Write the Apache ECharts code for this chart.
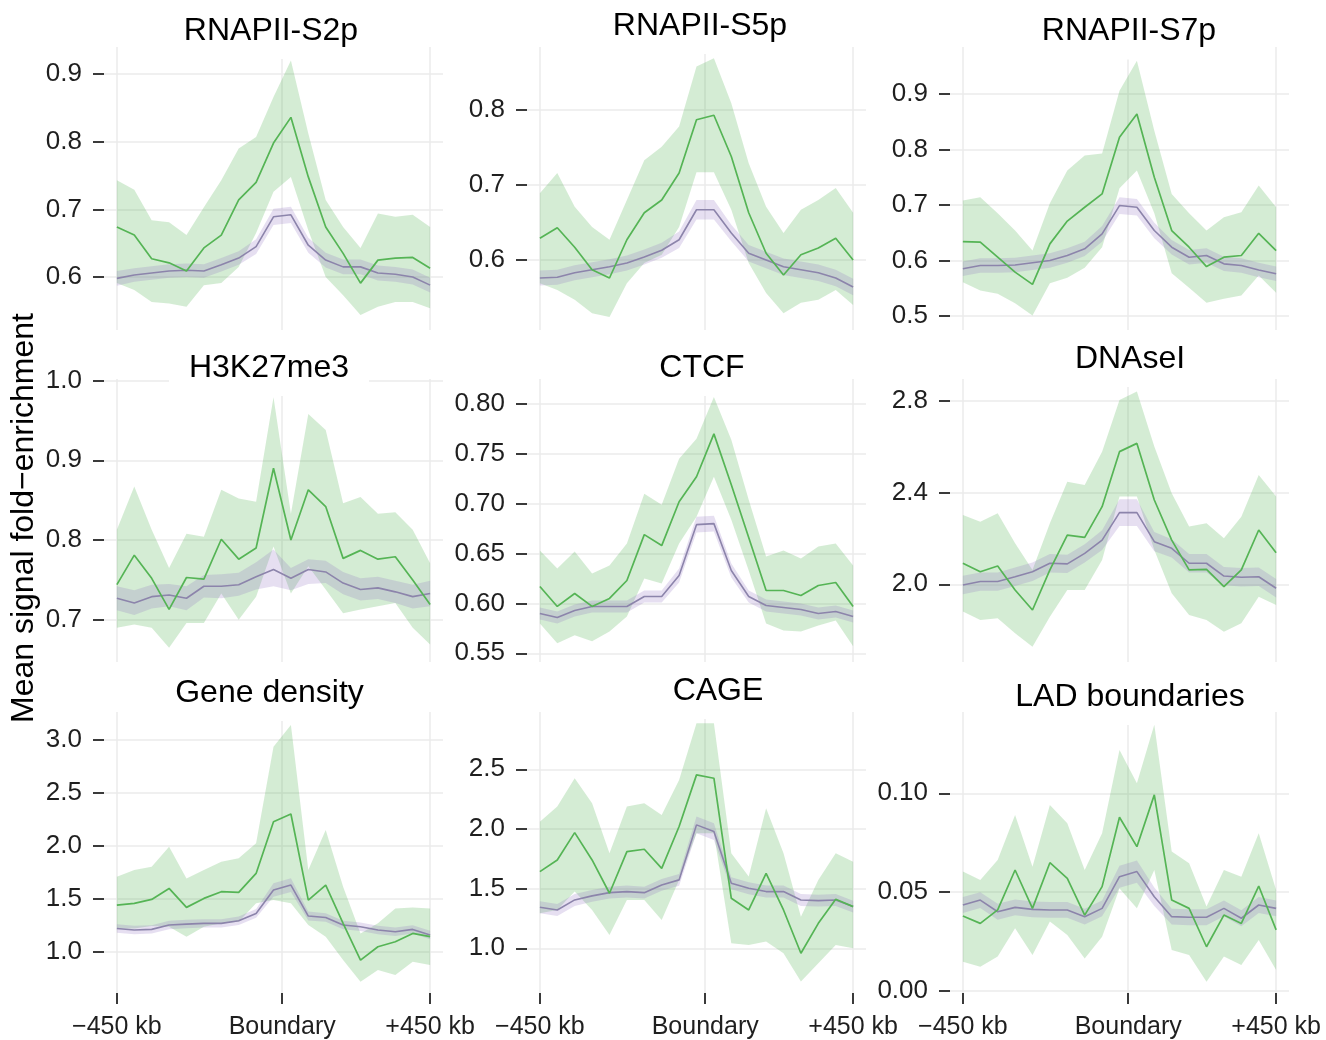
<!DOCTYPE html>
<html>
<head>
<meta charset="utf-8">
<script src="https://cdn.jsdelivr.net/npm/echarts@6/dist/echarts.min.js"></script>
<style>
html,body{margin:0;padding:0;background:#fff;}
#chart{width:1326px;height:1040px;}
</style>
</head>
<body>
<div id="chart"></div>
<script>
// ---------- shared axis data ----------
const positionsKb = [-450,-400,-350,-300,-250,-200,-150,-100,-50,0,50,100,150,200,250,300,350,400,450];
const xTickValues = [-450, 25, 450];
const xTickLabels = ['\u2212450 kb', 'Boundary', '+450 kb'];
const yAxisTitle = 'Mean signal fold\u2212enrichment';

// ---------- RNAPII-S2p ----------
const s2pGreenMean = [0.674,0.662,0.627,0.621,0.609,0.643,0.662,0.714,0.740,0.798,0.836,0.748,0.674,0.635,0.591,0.625,0.628,0.629,0.613];
const s2pGreenLow  = [0.591,0.581,0.563,0.561,0.556,0.588,0.591,0.615,0.665,0.726,0.748,0.669,0.600,0.573,0.544,0.556,0.563,0.563,0.554];
const s2pGreenHigh = [0.743,0.729,0.684,0.681,0.662,0.703,0.743,0.790,0.807,0.866,0.920,0.812,0.714,0.674,0.643,0.694,0.689,0.692,0.674];
const s2pPurpleMean = [0.598,0.603,0.606,0.609,0.610,0.609,0.618,0.628,0.645,0.689,0.692,0.647,0.625,0.615,0.615,0.606,0.604,0.600,0.588];
const s2pPurpleLow  = [0.587,0.593,0.596,0.599,0.600,0.599,0.608,0.618,0.634,0.677,0.680,0.636,0.614,0.604,0.604,0.595,0.593,0.589,0.577];
const s2pPurpleHigh = [0.609,0.613,0.616,0.619,0.620,0.619,0.628,0.638,0.656,0.701,0.704,0.658,0.636,0.626,0.626,0.617,0.615,0.611,0.599];
const s2pTicks = [0.6,0.7,0.8,0.9];

// ---------- RNAPII-S5p ----------
const s5pGreenMean = [0.629,0.643,0.617,0.587,0.576,0.627,0.663,0.680,0.716,0.787,0.793,0.738,0.663,0.609,0.580,0.607,0.616,0.629,0.600];
const s5pGreenLow  = [0.569,0.560,0.547,0.529,0.524,0.569,0.596,0.607,0.644,0.717,0.717,0.667,0.596,0.556,0.529,0.543,0.547,0.560,0.540];
const s5pGreenHigh = [0.689,0.716,0.671,0.644,0.627,0.680,0.733,0.751,0.778,0.858,0.869,0.809,0.729,0.671,0.636,0.667,0.680,0.696,0.663];
const s5pPurpleMean = [0.576,0.577,0.583,0.587,0.591,0.596,0.604,0.613,0.627,0.667,0.667,0.636,0.609,0.600,0.591,0.587,0.583,0.576,0.564];
const s5pPurpleLow  = [0.566,0.567,0.573,0.577,0.581,0.586,0.594,0.603,0.616,0.654,0.654,0.625,0.598,0.589,0.580,0.576,0.572,0.565,0.553];
const s5pPurpleHigh = [0.586,0.587,0.593,0.597,0.601,0.606,0.614,0.623,0.638,0.680,0.680,0.647,0.620,0.611,0.602,0.598,0.594,0.587,0.575];
const s5pTicks = [0.6,0.7,0.8];

// ---------- RNAPII-S7p ----------
const s7pGreenMean = [0.634,0.633,0.606,0.579,0.557,0.630,0.671,0.696,0.720,0.822,0.864,0.750,0.654,0.624,0.589,0.606,0.609,0.649,0.618];
const s7pGreenLow  = [0.561,0.546,0.540,0.523,0.501,0.559,0.569,0.587,0.624,0.730,0.762,0.685,0.577,0.551,0.524,0.531,0.537,0.573,0.542];
const s7pGreenHigh = [0.708,0.714,0.685,0.654,0.618,0.703,0.762,0.789,0.793,0.906,0.960,0.834,0.720,0.685,0.654,0.678,0.687,0.735,0.696];
const s7pPurpleMean = [0.585,0.591,0.591,0.592,0.596,0.600,0.609,0.621,0.648,0.699,0.696,0.654,0.624,0.606,0.609,0.594,0.591,0.583,0.576];
const s7pPurpleLow  = [0.572,0.578,0.578,0.579,0.583,0.587,0.596,0.608,0.634,0.684,0.681,0.640,0.611,0.593,0.596,0.581,0.578,0.570,0.563];
const s7pPurpleHigh = [0.598,0.604,0.604,0.605,0.609,0.613,0.622,0.634,0.662,0.714,0.711,0.668,0.637,0.619,0.622,0.607,0.604,0.596,0.589];
const s7pTicks = [0.5,0.6,0.7,0.8,0.9];

// ---------- H3K27me3 ----------
const h3GreenMean = [0.744,0.781,0.752,0.713,0.753,0.751,0.801,0.776,0.790,0.890,0.800,0.863,0.842,0.777,0.787,0.776,0.779,0.750,0.719];
const h3GreenLow  = [0.690,0.694,0.690,0.665,0.696,0.696,0.733,0.700,0.729,0.792,0.733,0.767,0.738,0.708,0.713,0.717,0.721,0.690,0.669];
const h3GreenHigh = [0.813,0.867,0.813,0.765,0.808,0.804,0.863,0.852,0.848,0.979,0.833,0.958,0.938,0.846,0.854,0.833,0.835,0.813,0.771];
const h3PurpleMean = [0.727,0.721,0.729,0.731,0.727,0.742,0.742,0.744,0.754,0.763,0.752,0.763,0.760,0.746,0.738,0.740,0.735,0.729,0.733];
const h3PurpleLow  = [0.712,0.706,0.714,0.717,0.712,0.728,0.727,0.730,0.738,0.742,0.737,0.745,0.746,0.732,0.724,0.726,0.721,0.714,0.717];
const h3PurpleHigh = [0.742,0.737,0.744,0.745,0.742,0.756,0.757,0.759,0.772,0.788,0.765,0.776,0.774,0.760,0.752,0.754,0.749,0.744,0.749];
const h3Ticks = [0.7,0.8,0.9,1.0];

// ---------- CTCF ----------
const ctcfGreenMean = [0.617,0.597,0.610,0.597,0.605,0.623,0.669,0.658,0.702,0.727,0.770,0.719,0.666,0.613,0.613,0.608,0.618,0.621,0.597];
const ctcfGreenLow  = [0.580,0.560,0.568,0.562,0.572,0.587,0.625,0.620,0.660,0.687,0.727,0.684,0.633,0.580,0.573,0.572,0.578,0.583,0.557];
const ctcfGreenHigh = [0.653,0.635,0.652,0.630,0.638,0.660,0.710,0.699,0.745,0.765,0.807,0.764,0.704,0.647,0.653,0.645,0.657,0.660,0.638];
const ctcfPurpleMean = [0.590,0.586,0.593,0.597,0.597,0.597,0.607,0.607,0.628,0.679,0.680,0.633,0.607,0.598,0.596,0.594,0.590,0.592,0.587];
const ctcfPurpleLow  = [0.584,0.580,0.587,0.591,0.591,0.591,0.601,0.601,0.621,0.671,0.672,0.626,0.601,0.592,0.590,0.588,0.584,0.586,0.581];
const ctcfPurpleHigh = [0.596,0.592,0.599,0.603,0.603,0.603,0.613,0.613,0.635,0.687,0.688,0.640,0.613,0.604,0.602,0.600,0.596,0.598,0.593];
const ctcfTicks = [0.55,0.60,0.65,0.70,0.75,0.80];

// ---------- DNAseI ----------
const dnaseGreenMean = [2.092,2.055,2.080,1.975,1.888,2.063,2.215,2.205,2.339,2.579,2.615,2.368,2.193,2.063,2.065,1.990,2.063,2.237,2.138];
const dnaseGreenLow  = [1.881,1.844,1.852,1.786,1.728,1.859,1.975,1.975,2.106,2.383,2.383,2.150,1.961,1.866,1.844,1.793,1.830,1.946,1.910];
const dnaseGreenHigh = [2.303,2.273,2.310,2.179,2.063,2.266,2.448,2.433,2.579,2.804,2.841,2.601,2.397,2.252,2.266,2.201,2.295,2.477,2.383];
const dnasePurpleMean = [1.997,2.012,2.012,2.033,2.055,2.092,2.089,2.135,2.193,2.313,2.313,2.186,2.157,2.092,2.092,2.036,2.031,2.033,1.983];
const dnasePurpleLow  = [1.957,1.972,1.972,1.993,2.015,2.052,2.049,2.095,2.150,2.255,2.255,2.144,2.117,2.052,2.052,1.996,1.991,1.993,1.943];
const dnasePurpleHigh = [2.037,2.052,2.052,2.073,2.095,2.132,2.129,2.175,2.236,2.371,2.371,2.228,2.197,2.132,2.132,2.076,2.071,2.073,2.023];
const dnaseTicks = [2.0,2.4,2.8];

// ---------- Gene density ----------
const geneGreenMean = [1.441,1.457,1.494,1.598,1.419,1.504,1.567,1.561,1.740,2.228,2.301,1.488,1.630,1.268,0.921,1.047,1.094,1.173,1.142];
const geneGreenLow  = [1.220,1.220,1.243,1.236,1.142,1.236,1.268,1.283,1.457,1.488,1.457,1.252,1.142,0.921,0.717,0.827,0.780,0.906,0.874];
const geneGreenHigh = [1.709,1.772,1.803,1.992,1.693,1.772,1.850,1.882,2.024,2.937,3.142,1.772,2.150,1.614,1.173,1.268,1.409,1.419,1.409];
const genePurpleMean = [1.220,1.205,1.211,1.252,1.261,1.268,1.268,1.293,1.362,1.583,1.630,1.337,1.324,1.252,1.236,1.205,1.189,1.211,1.157];
const genePurpleLow  = [1.180,1.165,1.171,1.212,1.221,1.228,1.228,1.253,1.320,1.520,1.565,1.295,1.284,1.212,1.196,1.165,1.149,1.171,1.117];
const genePurpleHigh = [1.260,1.245,1.251,1.292,1.301,1.308,1.308,1.333,1.404,1.646,1.695,1.379,1.364,1.292,1.276,1.245,1.229,1.251,1.197];
const geneTicks = [1.0,1.5,2.0,2.5,3.0];

// ---------- CAGE ----------
const cageGreenMean = [1.642,1.740,1.969,1.740,1.461,1.810,1.830,1.670,2.020,2.453,2.425,1.419,1.321,1.628,1.321,0.958,1.209,1.411,1.349];
const cageGreenLow  = [1.293,1.321,1.475,1.321,1.112,1.405,1.405,1.237,1.573,1.964,1.964,1.042,1.028,1.056,0.958,0.721,0.874,1.028,1.000];
const cageGreenHigh = [2.061,2.187,2.425,2.215,1.796,2.187,2.215,2.117,2.411,2.885,2.885,1.796,1.601,2.173,1.796,1.265,1.573,1.796,1.726];
const cagePurpleMean = [1.344,1.321,1.405,1.439,1.466,1.475,1.466,1.531,1.573,2.034,1.978,1.545,1.503,1.475,1.475,1.405,1.399,1.405,1.349];
const cagePurpleLow  = [1.294,1.271,1.355,1.389,1.416,1.425,1.416,1.481,1.523,1.964,1.908,1.495,1.453,1.425,1.425,1.355,1.349,1.355,1.299];
const cagePurpleHigh = [1.394,1.371,1.455,1.489,1.516,1.525,1.516,1.581,1.623,2.104,2.048,1.595,1.553,1.525,1.525,1.455,1.449,1.455,1.399];
const cageTicks = [1.0,1.5,2.0,2.5];

// ---------- LAD boundaries ----------
const ladGreenMean = [0.0379,0.0342,0.0410,0.0612,0.0418,0.0649,0.0570,0.0384,0.0528,0.0879,0.0730,0.0992,0.0460,0.0418,0.0224,0.0384,0.0342,0.0531,0.0309];
const ladGreenLow  = [0.0148,0.0123,0.0174,0.0317,0.0182,0.0351,0.0283,0.0165,0.0275,0.0519,0.0418,0.0612,0.0207,0.0182,0.0047,0.0174,0.0132,0.0258,0.0106];
const ladGreenHigh = [0.0604,0.0562,0.0663,0.0890,0.0629,0.0941,0.0848,0.0612,0.0798,0.1219,0.1051,0.1346,0.0705,0.0646,0.0427,0.0612,0.0578,0.0798,0.0511];
const ladPurpleMean = [0.0435,0.0460,0.0401,0.0423,0.0413,0.0410,0.0410,0.0376,0.0418,0.0578,0.0604,0.0477,0.0376,0.0373,0.0373,0.0418,0.0368,0.0435,0.0418];
const ladPurpleLow  = [0.0395,0.0420,0.0361,0.0383,0.0373,0.0370,0.0370,0.0336,0.0378,0.0522,0.0548,0.0430,0.0336,0.0333,0.0333,0.0378,0.0328,0.0395,0.0378];
const ladPurpleHigh = [0.0475,0.0500,0.0441,0.0463,0.0453,0.0450,0.0450,0.0416,0.0458,0.0634,0.0660,0.0524,0.0416,0.0413,0.0413,0.0458,0.0408,0.0475,0.0458];
const ladTicks = [0.00,0.05,0.10];

// ---------- panel table (built from the arrays above) ----------
const panels = [
  {title:'RNAPII-S2p', gm:s2pGreenMean, gl:s2pGreenLow, gh:s2pGreenHigh, pm:s2pPurpleMean, pl:s2pPurpleLow, ph:s2pPurpleHigh, ticks:s2pTicks, dec:1},
  {title:'RNAPII-S5p', gm:s5pGreenMean, gl:s5pGreenLow, gh:s5pGreenHigh, pm:s5pPurpleMean, pl:s5pPurpleLow, ph:s5pPurpleHigh, ticks:s5pTicks, dec:1},
  {title:'RNAPII-S7p', gm:s7pGreenMean, gl:s7pGreenLow, gh:s7pGreenHigh, pm:s7pPurpleMean, pl:s7pPurpleLow, ph:s7pPurpleHigh, ticks:s7pTicks, dec:1},
  {title:'H3K27me3', gm:h3GreenMean, gl:h3GreenLow, gh:h3GreenHigh, pm:h3PurpleMean, pl:h3PurpleLow, ph:h3PurpleHigh, ticks:h3Ticks, dec:1},
  {title:'CTCF', gm:ctcfGreenMean, gl:ctcfGreenLow, gh:ctcfGreenHigh, pm:ctcfPurpleMean, pl:ctcfPurpleLow, ph:ctcfPurpleHigh, ticks:ctcfTicks, dec:2},
  {title:'DNAseI', gm:dnaseGreenMean, gl:dnaseGreenLow, gh:dnaseGreenHigh, pm:dnasePurpleMean, pl:dnasePurpleLow, ph:dnasePurpleHigh, ticks:dnaseTicks, dec:1},
  {title:'Gene density', gm:geneGreenMean, gl:geneGreenLow, gh:geneGreenHigh, pm:genePurpleMean, pl:genePurpleLow, ph:genePurpleHigh, ticks:geneTicks, dec:1},
  {title:'CAGE', gm:cageGreenMean, gl:cageGreenLow, gh:cageGreenHigh, pm:cagePurpleMean, pl:cagePurpleLow, ph:cagePurpleHigh, ticks:cageTicks, dec:1},
  {title:'LAD boundaries', gm:ladGreenMean, gl:ladGreenLow, gh:ladGreenHigh, pm:ladPurpleMean, pl:ladPurpleLow, ph:ladPurpleHigh, ticks:ladTicks, dec:2}
];

// ---------- layout (pixels / axis ranges) ----------
const colLeft = [104, 527, 950];
const gridWidth = 339;
const rowTop = [47, 379, 712];
const rowBottom = [330, 662, 993];
const yRanges = [
  [0.5217, 0.940], [0.5067, 0.884], [0.4748, 0.9847],
  [0.647, 1.002], [0.5413, 0.825], [1.661, 2.896],
  [0.610, 3.265], [0.625, 2.980], [-0.001, 0.1411]
];
const titlePos = [
  [271, 31], [700, 26], [1129, 31.5],
  [269, 368], [702, 368], [1130, 359],
  [269.5, 693], [718, 691], [1130, 697]
];

const GREEN_LINE = '#55b455';
const GREEN_BAND = 'rgba(77,175,74,0.24)';
const PURPLE_LINE = '#8c84ab';
const PURPLE_BAND = 'rgba(140,110,190,0.22)';
const GRID_COLOR = '#ebebeb';
const TEXT_COLOR = '#1f1f1f';
const FONT = '"Liberation Sans", Arial, Helvetica, sans-serif';

const pair = arr => positionsKb.map((x, i) => [x, arr[i]]);
const bandData = (lo, hi) => positionsKb.map((x, i) => [x, lo[i], hi[i]]);

function bandSeries(k, lo, hi, color, z) {
  return {
    type: 'custom', xAxisIndex: k, yAxisIndex: k, silent: true, animation: false, z: z,
    data: bandData(lo, hi),
    encode: {x: 0, y: [1, 2]},
    renderItem: function (params, api) {
      if (params.dataIndex !== 0) return null;
      const n = params.dataInsideLength;
      const upper = [], lower = [];
      for (let i = 0; i < n; i++) {
        upper.push(api.coord([api.value(0, i), api.value(2, i)]));
        lower.push(api.coord([api.value(0, i), api.value(1, i)]));
      }
      return {type: 'polygon', shape: {points: upper.concat(lower.reverse())}, style: {fill: color}};
    }
  };
}

const grids = [], xAxes = [], yAxes = [], series = [], titles = [];

panels.forEach((p, k) => {
  const row = Math.floor(k / 3), col = k % 3;
  const bottomRow = row === 2;
  grids.push({
    left: colLeft[col], width: gridWidth,
    top: rowTop[row], height: rowBottom[row] - rowTop[row],
    containLabel: false, show: false
  });
  xAxes.push({
    type: 'value', gridIndex: k, min: -487, max: 487, position: 'bottom',
    axisLine: {show: false, onZero: false},
    axisTick: {show: bottomRow, customValues: xTickValues, length: 11, lineStyle: {color: '#3a3a3a', width: 2}},
    axisLabel: {
      show: bottomRow, customValues: xTickValues, margin: 22,
      fontSize: 25, fontFamily: FONT, color: TEXT_COLOR,
      formatter: v => { const i = xTickValues.indexOf(v); return i >= 0 ? xTickLabels[i] : ''; }
    },
    splitLine: {show: true, lineStyle: {color: GRID_COLOR, width: 1.5}}
  });
  yAxes.push({
    type: 'value', gridIndex: k, min: yRanges[k][0], max: yRanges[k][1], position: 'left',
    axisLine: {show: false, onZero: false},
    axisTick: {show: true, customValues: p.ticks, length: 11, lineStyle: {color: '#3a3a3a', width: 2}},
    axisLabel: {
      show: true, customValues: p.ticks, margin: 22,
      fontSize: 26, fontFamily: FONT, color: TEXT_COLOR,
      formatter: v => Number(v).toFixed(p.dec)
    },
    splitLine: {show: true, lineStyle: {color: GRID_COLOR, width: 1.5}}
  });
  const base = {type: 'line', xAxisIndex: k, yAxisIndex: k, symbol: 'none', silent: true, animation: false};
  series.push(bandSeries(k, p.gl, p.gh, GREEN_BAND, 1));
  series.push(bandSeries(k, p.pl, p.ph, PURPLE_BAND, 2));
  series.push(Object.assign({}, base, {name: 'pMean' + k, data: pair(p.pm), lineStyle: {color: PURPLE_LINE, width: 1.6}, z: 3}));
  series.push(Object.assign({}, base, {name: 'gMean' + k, data: pair(p.gm), lineStyle: {color: GREEN_LINE, width: 1.7}, z: 4}));
  titles.push({
    text: p.title, left: titlePos[k][0] - 20, top: titlePos[k][1] - 21, textAlign: 'center',
    backgroundColor: '#ffffff', padding: [4, 20, 11, 20],
    textStyle: {fontSize: 32, fontWeight: 'normal', fontFamily: FONT, color: '#000', lineHeight: 34}
  });
});

const chart = echarts.init(document.getElementById('chart'), null, {renderer: 'canvas'});
chart.setOption({
  backgroundColor: '#ffffff',
  animation: false,
  title: titles,
  grid: grids,
  xAxis: xAxes,
  yAxis: yAxes,
  series: series,
  graphic: [{
    type: 'text', x: 24, y: 518, rotation: Math.PI / 2, silent: true,
    style: {text: yAxisTitle, font: '32px ' + FONT, fill: '#000', align: 'center', verticalAlign: 'middle'}
  }]
});
</script>
</body>
</html>
